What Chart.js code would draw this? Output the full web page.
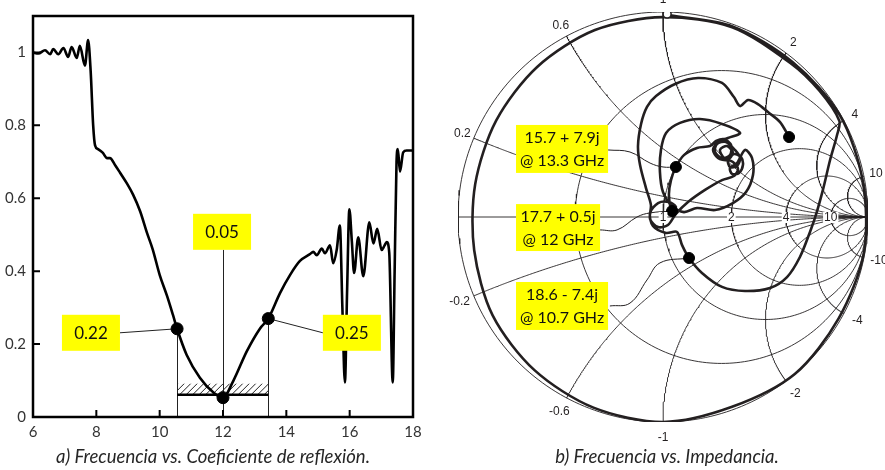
<!DOCTYPE html>
<html><head><meta charset="utf-8">
<script src="https://cdn.jsdelivr.net/npm/chart.js@4.4.1/dist/chart.umd.min.js"></script>
<style>
body{margin:0;background:#fff;width:885px;height:470px;overflow:hidden;position:relative}
#c1{position:absolute;left:0;top:0}
#c2{position:absolute;left:430px;top:0}
</style></head><body>
<canvas id="c1" width="430" height="470"></canvas>
<canvas id="c2" width="455" height="470"></canvas>
<script>
// ================= (a) Frequency vs reflection coefficient =================
const freqGHz = [6.0,6.17,6.38,6.54,6.64,6.8,6.96,7.11,7.22,7.38,7.48,7.64,7.74,7.82,7.9,7.96,8.05,8.2,8.34,8.43,8.6,8.75,8.97,9.16,9.38,9.6,9.78,10.0,10.23,10.42,10.55,10.85,11.27,11.69,12.0,12.33,12.75,13.17,13.43,13.8,14.12,14.43,14.75,14.85,14.96,15.12,15.22,15.38,15.48,15.59,15.69,15.77,15.85,15.92,15.99,16.07,16.14,16.27,16.43,16.62,16.75,16.87,17.01,17.1,17.17,17.25,17.36,17.42,17.48,17.52,17.59,17.69,17.8,17.96,18.0];
const reflCoef = [1.0,0.997,1.006,0.995,1.009,0.995,1.012,0.988,1.015,0.985,1.018,0.964,1.034,0.95,0.8,0.745,0.735,0.725,0.71,0.71,0.69,0.67,0.64,0.61,0.565,0.505,0.46,0.39,0.333,0.28,0.242,0.171,0.108,0.068,0.053,0.1,0.18,0.243,0.27,0.34,0.39,0.428,0.447,0.453,0.444,0.462,0.449,0.471,0.422,0.458,0.525,0.3,0.095,0.35,0.57,0.48,0.395,0.493,0.386,0.534,0.476,0.516,0.458,0.47,0.48,0.45,0.095,0.4,0.7,0.735,0.673,0.726,0.731,0.731,0.73];
const xTickVals = [6,8,10,12,14,16,18];
const yTickVals = [0,0.2,0.4,0.6,0.8,1];
const markFreq = [10.55, 12.0, 13.43];
const markCoef = [0.242, 0.053, 0.27];
const markText = ['0.22','0.05','0.25'];
const markBoxFreq = [7.83, 11.97, 16.07];
const markBoxCoef = [0.231, 0.508, 0.231];
const bandFreq = [10.55, 13.43];
const bandCoef = [0.061, 0.092];
const captionA = 'a) Frecuencia vs. Coeficiente de reflexión.';

// ================= (b) Smith chart =================
const rCircles = [0, 0.4, 1, 2, 4, 10];
const xArcs = [0.2, 0.6, 1, 2, 4, 10];
const rAxisLabels = [1, 2, 4, 10];
const traceRe = [0.034,0.339,0.633,0.862,0.975,0.980,0.857,0.643,0.337,0.0,-0.339,-0.627,-0.831,-0.921,-0.916,-0.814,-0.614,-0.332,0.0,0.337,0.627,
  0.762,0.86,0.849,0.815,0.78,0.746,0.717,0.668,0.605,0.522,0.4,0.288,0.19,0.127,
  0.093,0.068,0.015,-0.049,-0.063,-0.024,0.029,0.063,0.044,
  0.029,0.039,0.063,0.102,0.166,0.229,
  0.259,0.298,0.332,0.327,0.288,0.254,0.263,0.307,0.351,0.376,0.361,0.327,0.317,0.346,0.38,0.39,0.371,0.337,0.327,0.361,0.4,
  0.434,0.439,0.405,0.341,0.254,0.166,0.102,0.044,0.0,-0.015,-0.01,0.015,0.083,0.18,0.288,0.376,
  0.317,0.268,0.244,0.268,0.312,0.341,0.312,0.278,0.298,0.341,0.366,0.346,
  0.288,0.205,0.122,0.063,0.024,-0.024,-0.063,-0.059,-0.083,-0.112,-0.122,-0.107,-0.078,-0.034,0.059,0.171,0.288,0.346,0.376,0.415,0.463,0.512,0.571,0.615];
const traceIm = [0.984,0.930,0.755,0.498,0.172,-0.173,-0.495,-0.766,-0.926,-1.0,-0.930,-0.747,-0.48,-0.162,0.161,0.47,0.732,0.912,0.975,0.926,0.747,
  0.617,0.47,0.4,0.278,0.132,0.01,-0.073,-0.195,-0.293,-0.346,-0.361,-0.341,-0.273,-0.2,
  -0.137,-0.073,-0.078,-0.044,0.02,0.068,0.073,0.049,0.029,
  0.107,0.18,0.244,0.302,0.337,0.346,
  0.371,0.38,0.351,0.302,0.288,0.317,0.356,0.366,0.327,0.288,0.249,0.244,0.278,0.307,0.293,0.254,0.215,0.21,0.239,0.263,0.327,
  0.288,0.205,0.122,0.068,0.034,0.044,0.024,0.054,0.122,0.22,0.327,0.41,0.459,0.478,0.454,0.41,
  0.385,0.366,0.327,0.288,0.278,0.312,0.346,0.327,0.288,0.268,0.234,0.2,
  0.18,0.132,0.073,0.015,-0.039,-0.049,-0.01,0.059,0.141,0.254,0.346,0.454,0.537,0.59,0.649,0.678,0.654,0.585,0.541,0.571,0.551,0.512,0.463,0.39];
const dotRe = [0.127, 0.044, 0.063, 0.615];
const dotIm = [-0.2, 0.029, 0.244, 0.39];
const startRe = [0.02];
const startIm = [0.99];
const noteLines = [['15.7 + 7.9j','@ 13.3 GHz'],['17.7 + 0.5j','@ 12 GHz'],['18.6 - 7.4j','@ 10.7 GHz']];
const noteBoxRe = [[-0.717,-0.268],[-0.717,-0.307],[-0.717,-0.268]];
const noteBoxIm = [[0.449,0.215],[0.063,-0.166],[-0.317,-0.551]];
const leaderRe = [[-0.268,-0.161,-0.063,0.0,0.063],[-0.307,-0.224,-0.127,-0.063,0.044],[-0.259,-0.161,-0.078,-0.015,0.127]];
const leaderIm = [[0.327,0.317,0.263,0.244,0.244],[-0.063,-0.063,0.0,0.02,0.029],[-0.434,-0.42,-0.307,-0.224,-0.2]];
const captionB = 'b) Frecuencia vs. Impedancia.';

const INK = '#231f20';
const FONT = 'Lato, "Open Sans", sans-serif';

// ---------- left chart ----------
const leftDecor = {
  id: 'leftDecor',
  beforeDatasetsDraw(chart) {
    const {ctx, scales: {x, y}} = chart;
    ctx.save();
    ctx.strokeStyle = '#222'; ctx.lineWidth = 1;
    ctx.beginPath();
    [0, 2].forEach(i => {
      const xp = Math.round(x.getPixelForValue(markFreq[i])) + 0.5;
      ctx.moveTo(xp, y.getPixelForValue(markCoef[i])); ctx.lineTo(xp, y.getPixelForValue(0));
    });
    const xc = Math.round(x.getPixelForValue(markFreq[1])) + 0.5;
    ctx.moveTo(xc, y.getPixelForValue(markBoxCoef[1]) + 18); ctx.lineTo(xc, y.getPixelForValue(0));
    ctx.stroke();
    const x0 = x.getPixelForValue(bandFreq[0]), x1 = x.getPixelForValue(bandFreq[1]);
    const yT = y.getPixelForValue(bandCoef[1]), yB = y.getPixelForValue(bandCoef[0]);
    ctx.save();
    ctx.beginPath(); ctx.rect(x0, yT, x1 - x0, yB - yT); ctx.clip();
    ctx.beginPath(); ctx.lineWidth = 1;
    for (let k = x0 - 30; k < x1 + 30; k += 6.5) { ctx.moveTo(k, yB); ctx.lineTo(k + (yB - yT), yT); }
    ctx.stroke();
    ctx.restore();
    ctx.beginPath(); ctx.lineWidth = 2.5; ctx.strokeStyle = '#000';
    ctx.moveTo(x0, yB); ctx.lineTo(x1, yB); ctx.stroke();
    ctx.lineWidth = 1; ctx.strokeStyle = '#222'; ctx.beginPath();
    ctx.moveTo(x.getPixelForValue(markBoxFreq[0]) + 29, y.getPixelForValue(markBoxCoef[0]));
    ctx.lineTo(x.getPixelForValue(markFreq[0]), y.getPixelForValue(markCoef[0]));
    ctx.moveTo(x.getPixelForValue(markBoxFreq[2]) - 29, y.getPixelForValue(markBoxCoef[2]));
    ctx.lineTo(x.getPixelForValue(markFreq[2]), y.getPixelForValue(markCoef[2]));
    ctx.stroke();
    ctx.restore();
  },
  afterDraw(chart) {
    const {ctx, chartArea: a, scales: {x, y}} = chart;
    ctx.save();
    ctx.strokeStyle = '#000'; ctx.lineWidth = 2.5;
    ctx.strokeRect(a.left, a.top, a.right - a.left, a.bottom - a.top);
    ctx.lineWidth = 2; ctx.beginPath();
    xTickVals.slice(1, -1).forEach(v => { const p = x.getPixelForValue(v); ctx.moveTo(p, a.bottom); ctx.lineTo(p, a.bottom - 7); });
    yTickVals.slice(1).forEach(v => { const p = y.getPixelForValue(v); ctx.moveTo(a.left, p); ctx.lineTo(a.left + 7, p); });
    ctx.stroke();
    ctx.font = '17px ' + FONT; ctx.textAlign = 'center'; ctx.textBaseline = 'middle';
    markText.forEach((t, i) => {
      const cx = x.getPixelForValue(markBoxFreq[i]), cy = y.getPixelForValue(markBoxCoef[i]);
      ctx.fillStyle = '#ffff00'; ctx.fillRect(cx - 29, cy - 18, 58, 36);
      ctx.fillStyle = '#111'; ctx.fillText(t, cx, cy + 1);
    });
    ctx.font = 'italic 18.5px ' + FONT; ctx.fillStyle = '#262626';
    ctx.fillText(captionA, 213, 457);
    ctx.restore();
  }
};

new Chart(document.getElementById('c1'), {
  type: 'line',
  data: {
    datasets: [
      { data: freqGHz.map((f, i) => ({x: f, y: reflCoef[i]})), borderColor: '#000', borderWidth: 2.6,
        pointRadius: 0, cubicInterpolationMode: 'monotone', fill: false },
      { type: 'scatter', data: markFreq.map((f, i) => ({x: f, y: markCoef[i]})), pointRadius: 6,
        pointBackgroundColor: '#000', pointBorderColor: '#000', showLine: false }
    ]
  },
  options: {
    responsive: false, animation: false, events: [],
    layout: { padding: { left: 0, right: 17, top: 6, bottom: 30 } },
    plugins: { legend: { display: false }, tooltip: { enabled: false }, title: { display: false } },
    scales: {
      x: { type: 'linear', min: 6, max: 18, afterFit(s) { s.height = 23; },
        ticks: { stepSize: 2, color: '#333', padding: 6, font: { family: FONT, size: 15 } },
        grid: { display: false, drawTicks: false }, border: { display: false } },
      y: { type: 'linear', min: 0, max: 1.1, afterFit(s) { s.width = 33; },
        ticks: { stepSize: 0.2, includeBounds: false, color: '#333', padding: 7, font: { family: FONT, size: 15 },
          callback: v => String(Math.round(v * 10) / 10) },
        grid: { display: false, drawTicks: false }, border: { display: false } }
    }
  },
  plugins: [leftDecor]
});

// ---------- Smith chart ----------
function gam(r, xv) { const d = (r + 1) * (r + 1) + xv * xv; return { x: (r * r + xv * xv - 1) / d, y: 2 * xv / d }; }
const gridSets = [];
const gridStyle = { showLine: true, pointRadius: 0, borderWidth: 0.9, borderColor: INK, tension: 0, order: 5 };
rCircles.forEach(r => {
  const pts = []; const c = r / (1 + r), rad = 1 / (1 + r);
  for (let k = 0; k <= 240; k++) { const t = 2 * Math.PI * k / 240; pts.push({x: c + rad * Math.cos(t), y: rad * Math.sin(t)}); }
  gridSets.push(Object.assign({ data: pts }, gridStyle));
});
xArcs.concat(xArcs.map(v => -v)).forEach(xv => {
  const pts = [];
  for (let k = 0; k <= 300; k++) { const s = k / 300; const r = s >= 1 ? 1e6 : Math.pow(s / (1 - s), 1.6); pts.push(gam(r, xv)); }
  gridSets.push(Object.assign({ data: pts }, gridStyle));
});
gridSets.push(Object.assign({ data: [{x: -1, y: 0}, {x: 1, y: 0}] }, gridStyle));

const leaderSets = leaderRe.map((arr, i) => ({ data: arr.map((v, k) => ({x: v, y: leaderIm[i][k]})), showLine: true,
  pointRadius: 0, borderWidth: 1, borderColor: INK, tension: 0.4, order: 4 }));

const smithDecor = {
  id: 'smithDecor',
  afterDatasetsDraw(chart) {
    const {ctx, scales: {x, y}} = chart;
    const px = v => x.getPixelForValue(v), py = v => y.getPixelForValue(v);
    ctx.save();
    ctx.font = '12px "Liberation Sans", Arial, sans-serif';
    ctx.textAlign = 'center'; ctx.textBaseline = 'middle';
    xArcs.concat(xArcs.map(v => -v)).forEach(v => {
      const g = gam(0, v); const f = v > 0 ? 1.06 : 1.075;
      ctx.fillStyle = INK; ctx.fillText(String(v), px(g.x * f), py(g.y * f));
    });
    rAxisLabels.forEach(r => {
      const gx = (r - 1) / (r + 1); const t = String(r); const w = ctx.measureText(t).width;
      ctx.fillStyle = '#fff'; ctx.fillRect(px(gx) - w / 2 - 1, py(0) - 5, w + 2, 11);
      ctx.fillStyle = INK; ctx.fillText(t, px(gx), py(0) + 1);
    });
    ctx.font = '16px ' + FONT;
    noteLines.forEach((lines, i) => {
      const l = px(noteBoxRe[i][0]), r = px(noteBoxRe[i][1]), t = py(noteBoxIm[i][0]), b = py(noteBoxIm[i][1]);
      ctx.fillStyle = '#ffff00'; ctx.fillRect(l, t, r - l, b - t);
      ctx.fillStyle = '#111';
      const cx = (l + r) / 2, cy = (t + b) / 2;
      ctx.fillText(lines[0], cx, cy - 11);
      ctx.fillText(lines[1], cx, cy + 12);
    });
    ctx.font = 'italic 18.5px ' + FONT; ctx.fillStyle = '#262626';
    ctx.fillText(captionB, 667 - 430, 457);
    ctx.restore();
  }
};

new Chart(document.getElementById('c2'), {
  type: 'scatter',
  data: {
    datasets: gridSets.concat(leaderSets).concat([
      { data: traceRe.map((v, i) => ({x: v, y: traceIm[i]})), showLine: true, pointRadius: 0, borderWidth: 2.6,
        borderColor: INK, tension: 0.3, order: 2 },
      { data: dotRe.map((v, i) => ({x: v, y: dotIm[i]})), showLine: false, pointRadius: 5.5,
        pointBackgroundColor: '#000', pointBorderColor: '#000', order: 1 },
      { data: startRe.map((v, i) => ({x: v, y: startIm[i]})), showLine: false, pointRadius: 4,
        pointBackgroundColor: '#fff', pointBorderColor: INK, pointBorderWidth: 1.5, order: 0 }
    ])
  },
  options: {
    responsive: false, animation: false, events: [],
    layout: { padding: { left: 28, right: 17, top: 12, bottom: 48 } },
    plugins: { legend: { display: false }, tooltip: { enabled: false }, title: { display: false } },
    scales: {
      x: { type: 'linear', min: -1, max: 1, display: false },
      y: { type: 'linear', min: -1, max: 1, display: false }
    }
  },
  plugins: [smithDecor]
});
</script>
</body></html>
